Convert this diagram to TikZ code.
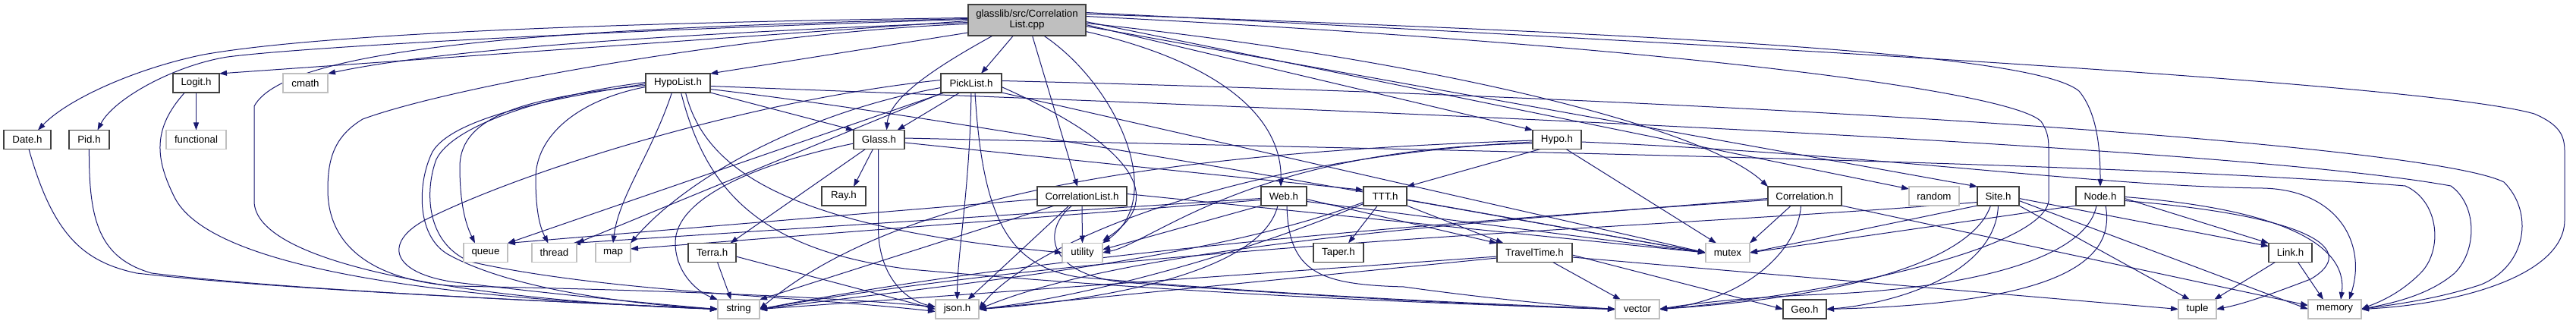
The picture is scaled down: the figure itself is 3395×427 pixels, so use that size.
\documentclass[tikz,border=0pt]{standalone}
\usepackage{fontspec}
\setmainfont{Liberation Sans}
\usetikzlibrary{arrows.meta}
\definecolor{edgec}{HTML}{191970}
\definecolor{greyb}{HTML}{BFBFBF}
\definecolor{blkb}{HTML}{404040}
\pgfdeclarelayer{edges}
\pgfsetlayers{edges,main}
\tikzset{
  nbox/.style={draw=blkb, line width=1.4pt, fill=white, minimum height=25pt, inner sep=0pt, outer sep=0pt, font=\fontsize{13.3}{15}\selectfont},
  xbox/.style={nbox, draw=greyb},
  e/.style={draw=edgec, line width=1pt, -{Triangle[length=10pt,width=7pt]}},
}
\begin{document}
\begin{tikzpicture}[x=1pt,y=-1pt]
\useasboundingbox (0,0) rectangle (3395,427);
% nodes
\node[nbox, fill=greyb, minimum width=155pt, minimum height=41pt, align=center, font=\fontsize{13.3}{14}\selectfont] (root) at (1353.5,26.5) {glasslib/src/Correlation\\List.cpp};
\node[nbox, minimum width=61pt] (logit) at (258.5,109.5) {Logit.h};
\node[xbox, minimum width=59pt] (cmath) at (402.5,109.5) {cmath};
\node[nbox, minimum width=85pt] (hypolist) at (893.5,109.5) {HypoList.h};
\node[nbox, minimum width=80pt] (picklist) at (1280,109.5) {PickList.h};
\node[nbox, minimum width=62pt] (date) at (36,184) {Date.h};
\node[nbox, minimum width=53pt] (pid) at (117.5,184) {Pid.h};
\node[xbox, minimum width=79pt] (functional) at (258.5,184) {functional};
\node[nbox, minimum width=67pt] (glass) at (1158.5,184) {Glass.h};
\node[nbox, minimum width=64pt] (hypo) at (2052,184) {Hypo.h};
\node[nbox, minimum width=58pt] (ray) at (1112,258.5) {Ray.h};
\node[nbox, minimum width=118pt] (corrlist) at (1426,258.5) {CorrelationList.h};
\node[nbox, minimum width=60pt] (web) at (1692,258.5) {Web.h};
\node[nbox, minimum width=57pt] (ttt) at (1825.5,258.5) {TTT.h};
\node[nbox, minimum width=97pt] (corr) at (2378.5,258.5) {Correlation.h};
\node[xbox, minimum width=66pt] (random) at (2549,258.5) {random};
\node[nbox, minimum width=55pt] (site) at (2633.5,258.5) {Site.h};
\node[nbox, minimum width=64pt] (nodeh) at (2768,258.5) {Node.h};
\node[xbox, minimum width=58pt] (queue) at (640,333) {queue};
\node[xbox, minimum width=59pt] (thread) at (730.5,333) {thread};
\node[xbox, minimum width=46pt] (map) at (808,333) {map};
\node[nbox, minimum width=63pt] (terra) at (938.5,333) {Terra.h};
\node[xbox, minimum width=53pt] (utility) at (1426.5,333) {utility};
\node[nbox, minimum width=66pt] (taper) at (1764,333) {Taper.h};
\node[nbox, minimum width=99pt] (tt) at (2022.5,333) {TravelTime.h};
\node[xbox, minimum width=58pt] (mutex) at (2277,333) {mutex};
\node[nbox, minimum width=57pt] (link) at (3018.5,333) {Link.h};
\node[xbox, minimum width=55pt] (string) at (973.5,407.5) {string};
\node[xbox, minimum width=57pt] (json) at (1261.5,407.5) {json.h};
\node[xbox, minimum width=58pt] (vector) at (2158,407.5) {vector};
\node[nbox, minimum width=57pt] (geo) at (2378.5,407.5) {Geo.h};
\node[xbox, minimum width=50pt] (tuple) at (2896,407.5) {tuple};
\node[xbox, minimum width=70pt] (memory) at (3077,407.5) {memory};
\begin{pgfonlayer}{edges}
% root
\draw[e] ([yshift=3pt]root.west) .. controls (800,30) and (420,45) .. (268,72) .. controls (180,90) and (90,130) .. ([xshift=14pt]date.north);
\draw[e] ([yshift=1pt]root.west) .. controls (800,40) and (400,62) .. (300,75) .. controls (230,86) and (150,130) .. ([xshift=11pt]pid.north);
\draw[e] ([yshift=-1pt]root.west) -- (logit.north east);
\draw[e] ([yshift=-3pt]root.west) .. controls (800,48) and (560,70) .. (cmath.north east);
\draw[e] ([yshift=2pt]root.west) .. controls (800,36) and (380,55) .. (335,140) -- (335,265) .. controls (335,345) and (600,395) .. (string.west);
\draw[e] ([yshift=-5pt]root.west) .. controls (1000,42) and (600,112) .. (478,157) .. controls (440,180) and (432,210) .. (432,250) .. controls (432,330) and (500,370) .. (600,377) .. controls (750,380) and (1050,387) .. ([yshift=3pt]json.west);
\draw[e] ([yshift=4pt]root.south west) -- (hypolist.north east);
\draw[e] ([xshift=-45pt]root.south) .. controls (1230,90) and (1172,130) .. ([xshift=10pt]glass.north);
\draw[e] ([xshift=-18pt]root.south) -- ([xshift=13pt]picklist.north);
\draw[e] ([xshift=7pt]root.south) -- ([xshift=-6pt]corrlist.north);
\draw[e] ([xshift=22pt]root.south) .. controls (1470,110) and (1540,260) .. (utility.north east);
\draw[e] ([yshift=-15pt]root.east) .. controls (1600,80) and (1690,150) .. ([xshift=-4pt]web.north);
\draw[e] ([yshift=-6pt]root.east) -- (hypo.north west);
\draw[e] ([yshift=-4pt]root.east) .. controls (1900,80) and (2250,170) .. (corr.north west);
\draw[e] ([yshift=-2pt]root.east) -- ([yshift=-3pt]random.north west);
\draw[e] ([yshift=-8pt]root.east) -- (site.north west);
\draw[e] ([yshift=8pt]root.east) .. controls (2200,45) and (2680,70) .. (2740,120) .. controls (2765,150) and (2768,200) .. (nodeh.north);
\draw[e] ([yshift=10pt]root.east) .. controls (2300,60) and (3200,110) .. (3340,150) .. controls (3375,165) and (3380,180) .. (3380,200) -- (3380,290) .. controls (3380,360) and (3250,400) .. (memory.east);
\draw[e] ([yshift=5pt]root.east) .. controls (2200,60) and (2650,120) .. (2690,160) .. controls (2700,175) and (2700,185) .. (2700,200) -- (2700,265) .. controls (2690,330) and (2400,390) .. (vector.east);
% small ones on the left
\draw[e] (logit.south) -- (functional.north);
\draw[e] ([xshift=-15pt]logit.south) .. controls (200,170) and (205,210) .. (230,260) .. controls (270,340) and (500,390) .. (string.west);
\draw[e] ([xshift=2pt]date.south) .. controls (70,310) and (110,345) .. (180,360) .. controls (400,385) and (800,400) .. (string.west);
\draw[e] (pid.south) .. controls (117,290) and (130,340) .. (200,360) .. controls (400,385) and (800,400) .. (string.west);
% HypoList
\draw[e] ([yshift=-3pt]hypolist.west) .. controls (700,128) and (606,150) .. (606,220) .. controls (606,275) and (616,300) .. ([xshift=-14pt]queue.north);
\draw[e] ([yshift=-5pt]hypolist.west) .. controls (760,132) and (706,180) .. (706,235) .. controls (706,280) and (712,300) .. ([xshift=-8pt]thread.north);
\draw[e] ([xshift=-8pt]hypolist.south) .. controls (860,200) and (815,260) .. (map.north);
\draw[e] (hypolist.south east) -- (glass.north west);
\draw[e] ([yshift=-1pt]hypolist.west) .. controls (760,125) and (600,150) .. (570,200) .. controls (550,240) and (548,310) .. (590,335) .. controls (680,385) and (850,402) .. (string.west);
\draw[e] ([yshift=1pt]hypolist.west) .. controls (740,122) and (600,160) .. (575,210) .. controls (560,250) and (560,320) .. (620,345) .. controls (800,385) and (1050,390) .. ([yshift=-3pt]json.west);
\draw[e] ([xshift=10pt]hypolist.south) .. controls (930,230) and (1050,300) .. (utility.west);
\draw[e] ([xshift=4pt]hypolist.south) .. controls (930,250) and (1000,330) .. (1200,355) .. controls (1600,390) and (1900,400) .. (vector.west);
\draw[e] ([yshift=-8pt]hypolist.east) .. controls (1300,160) and (2000,290) .. (mutex.west);
\draw[e] ([yshift=-4pt]hypolist.east) .. controls (1500,135) and (2900,185) .. (3230,245) .. controls (3265,270) and (3265,330) .. (3235,360) .. controls (3200,390) and (3150,400) .. (memory.east);
% PickList
\draw[e] ([xshift=-15pt]picklist.south) -- ([xshift=24pt]glass.north);
\draw[e] (picklist.south) .. controls (1278,250) and (1262,330) .. (json.north);
\draw[e] ([xshift=5pt]picklist.south west) -- (queue.north east);
\draw[e] ([xshift=3pt]picklist.south west) -- (thread.north east);
\draw[e] ([yshift=-6pt]picklist.west) .. controls (1050,150) and (900,240) .. (map.north east);
\draw[e] ([yshift=4pt]picklist.west) .. controls (1000,130) and (700,220) .. (560,290) .. controls (505,320) and (515,360) .. (600,372) .. controls (750,390) and (880,402) .. (string.west);
\draw[e] ([yshift=-5pt]picklist.east) .. controls (1490,190) and (1540,260) .. ([yshift=3pt]utility.north east);
\draw[e] ([xshift=5pt]picklist.south) .. controls (1295,290) and (1330,350) .. (1420,365) .. controls (1700,390) and (1950,400) .. (vector.west);
\draw[e] (picklist.south east) -- (mutex.west);
\draw[e] ([yshift=3pt]picklist.east) .. controls (2300,130) and (3200,190) .. (3300,240) .. controls (3340,280) and (3330,350) .. (3270,375) .. controls (3210,395) and (3150,402) .. (memory.east);
% Glass
\draw[e] ([xshift=-8pt]glass.south) -- ([xshift=13pt]ray.north);
\draw[e] ([xshift=-18pt]glass.south) -- ([xshift=24pt]terra.north);
\draw[e] ([yshift=-5pt]glass.west) .. controls (1000,215) and (890,260) .. (890,320) .. controls (890,360) and (920,385) .. (string.north west);
\draw[e] ([xshift=-1pt]glass.south) -- (1157.5,300) .. controls (1157.5,360) and (1190,395) .. ([yshift=3pt]json.west);
\draw[e] ([yshift=-4pt]glass.east) -- ([yshift=8pt]ttt.west);
\draw[e] ([yshift=2pt]glass.east) .. controls (2000,200) and (2800,215) .. (3170,245) .. controls (3215,265) and (3220,330) .. (3190,360) .. controls (3160,390) and (3130,400) .. (memory.east);
% Terra
\draw[e] ([xshift=7pt]terra.south) -- ([xshift=-10pt]string.north);
\draw[e] ([yshift=-5pt]terra.east) -- (json.west);
% CorrelationList
\draw[e] (corrlist.south) -- (utility.north);
\draw[e] ([xshift=-17pt]corrlist.south) -- ([xshift=14pt]json.north);
\draw[e] ([xshift=-36pt]corrlist.south) -- (string.north east);
\draw[e] ([xshift=-13pt]corrlist.south) .. controls (1375,300) and (1375,360) .. (1480,372) .. controls (1800,395) and (2000,404) .. (vector.west);
\draw[e] ([yshift=3pt]corrlist.east) -- (mutex.west);
\draw[e] ([yshift=-4pt]corrlist.west) -- (queue.north east);
% Web
\draw[e] ([yshift=-3pt]web.west) -- ([xshift=-5pt]thread.north east);
\draw[e] ([yshift=-5pt]web.west) -- ([yshift=5pt]map.east);
\draw[e] (web.south west) -- ([yshift=4pt]utility.east);
\draw[e] ([xshift=-8pt]web.south) .. controls (1660,370) and (1400,400) .. (json.east);
\draw[e] ([xshift=4pt]web.south) .. controls (1698,360) and (1740,375) .. (1850,378) .. controls (1950,392) and (2050,402) .. (vector.west);
\draw[e] ([yshift=-7pt]web.east) -- (mutex.west);
\draw[e] ([yshift=-4pt]web.east) -- (tt.north west);
% TTT
\draw[e] ([xshift=-10pt]ttt.south) -- ([xshift=13pt]taper.north);
\draw[e] (ttt.south east) -- ([xshift=-41pt]tt.north);
\draw[e] ([yshift=-8pt]ttt.west) .. controls (1600,340) and (1300,370) .. (string.east);
\draw[e] ([yshift=-10pt]ttt.west) .. controls (1600,350) and (1400,395) .. (json.east);
\draw[e] ([yshift=-5pt]ttt.east) -- (mutex.west);
% TravelTime
\draw[e] ([xshift=24pt]tt.south) -- ([xshift=-22pt]vector.north);
\draw[e] ([yshift=-5pt]tt.west) -- (string.east);
\draw[e] ([yshift=-7pt]tt.west) -- (json.east);
\draw[e] ([yshift=-3pt]tt.east) -- (geo.west);
\draw[e] ([yshift=-6pt]tt.east) -- (tuple.west);
% Hypo
\draw[e] ([xshift=-22pt]hypo.south) -- (ttt.north east);
\draw[e] ([xshift=12pt]hypo.south) -- ([xshift=-15pt]mutex.north);
\draw[e] ([yshift=-1pt]hypo.west) .. controls (1600,200) and (1200,240) .. (string.east);
\draw[e] ([yshift=-3pt]hypo.west) .. controls (1600,210) and (1350,330) .. (json.east);
\draw[e] ([yshift=-5pt]hypo.west) .. controls (1650,195) and (1520,320) .. (utility.east);
\draw[e] ([yshift=-3pt]hypo.east) .. controls (2500,205) and (2750,245) .. (2982,248) .. controls (3080,250) and (3120,320) .. ([xshift=19pt]memory.north);
% Correlation
\draw[e] ([xshift=-18pt]corr.south) -- (mutex.north east);
\draw[e] ([xshift=-5pt]corr.south) .. controls (2370,330) and (2300,395) .. (vector.east);
\draw[e] ([yshift=-3pt]corr.west) .. controls (2000,290) and (1500,320) .. (json.east);
\draw[e] ([yshift=-5pt]corr.west) .. controls (1950,290) and (1400,330) .. (string.east);
\draw[e] (corr.south east) -- ([yshift=5pt]memory.west);
% Site
\draw[e] ([yshift=-3pt]site.east) -- ([yshift=-4pt]link.north west);
\draw[e] ([yshift=-6pt]site.east) -- (memory.west);
\draw[e] (site.south east) -- ([xshift=-10pt]tuple.north);
\draw[e] (site.south) .. controls (2630,360) and (2500,400) .. (geo.east);
\draw[e] (site.south west) -- (mutex.east);
\draw[e] ([xshift=-10pt]site.south) .. controls (2600,340) and (2450,390) .. (vector.east);
\draw[e] ([yshift=-8pt]site.west) .. controls (2200,300) and (1500,320) .. (string.east);
% Node
\draw[e] ([yshift=-3pt]nodeh.east) -- (link.north west);
\draw[e] ([xshift=7pt]nodeh.south) .. controls (2790,350) and (2700,400) .. (geo.east);
\draw[e] ([yshift=-1pt]nodeh.east) .. controls (3000,275) and (3095,320) .. ([xshift=8pt]memory.north);
\draw[e] ([yshift=-6pt]nodeh.east) .. controls (3050,285) and (3110,330) .. (3045,368) .. controls (3000,385) and (2960,400) .. (tuple.east);
\draw[e] (nodeh.south west) -- (mutex.east);
\draw[e] ([xshift=-5pt]nodeh.south) .. controls (2750,340) and (2600,380) .. (2400,388) .. controls (2300,392) and (2230,400) .. (vector.east);
% Link
\draw[e] ([xshift=-20pt]link.south) -- ([xshift=-3pt]tuple.north east);
\draw[e] ([xshift=10pt]link.south) -- ([xshift=-15pt]memory.north);
\end{pgfonlayer}
\end{tikzpicture}
\end{document}
